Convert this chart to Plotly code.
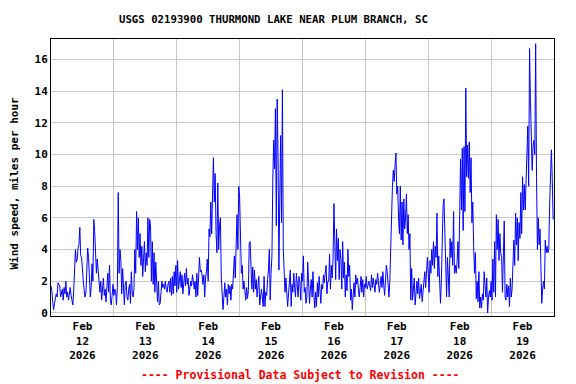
import pandas as pd
import plotly.graph_objects as go

# Wind speed (mph), 20-minute readings, one list per day
day_labels = ["2026-02-12", "2026-02-13", "2026-02-14", "2026-02-15",
              "2026-02-16", "2026-02-17", "2026-02-18", "2026-02-19"]

feb12 = [1.7, 1.4, 0.7, 0.2, 0.6, 0.9,
         1.2, 1.0, 1.9, 1.8, 1.7, 1.0,
         1.4, 1.5, 0.8, 1.6, 1.2, 2.0,
         1.0, 1.3, 0.8, 1.5, 1.6, 1.1,
         0.7, 0.5, 1.4, 2.8, 4.0, 3.2,
         3.4, 4.1, 4.3, 5.4, 3.6, 3.5,
         2.5, 2.0, 1.4, 1.0, 1.3, 2.7,
         4.1, 3.5, 1.6, 1.0, 1.6, 3.1,
         2.0, 5.9, 5.2, 3.6, 2.5, 3.4,
         2.4, 2.0, 1.3, 2.0, 0.8, 1.6,
         2.2, 1.1, 1.5, 0.7, 2.0, 2.5,
         1.3, 3.0, 0.8, 0.5, 1.1, 1.8]

feb13 = [1.1, 1.5, 1.3, 0.5, 1.6, 7.6,
         2.5, 4.0, 3.3, 1.2, 2.8, 1.5,
         0.5, 1.8, 2.0, 1.0, 0.8, 1.5,
         1.8, 0.6, 2.6, 1.3, 1.0, 1.5,
         4.0, 2.5, 6.4, 4.0, 6.0, 3.5,
         5.0, 3.0, 4.2, 2.3, 3.8, 4.5,
         2.6, 3.8, 3.0, 6.0, 3.5, 5.9,
         5.5, 2.0, 4.5, 1.8, 3.8, 1.3,
         3.2, 1.5, 0.7, 2.0, 0.5, 0.6,
         1.5, 2.0, 1.6, 1.8, 1.5, 2.0,
         1.5, 1.3, 1.8, 2.0, 1.3, 2.2,
         1.1, 2.3, 1.2, 2.6, 1.7, 3.0]

feb14 = [1.3, 3.3, 1.5, 2.0, 2.6, 1.6,
         2.4, 1.2, 2.0, 2.5, 1.7, 2.8,
         1.8, 2.2, 1.1, 1.6, 2.0, 1.7,
         2.4, 2.0, 1.5, 2.0, 1.0, 2.5,
         1.1, 2.2, 3.5, 2.6, 2.7, 2.4,
         1.8, 2.4, 1.0, 2.2, 2.6, 3.4,
         2.0, 5.3, 4.8, 7.0, 5.0, 7.5,
         9.8, 7.0, 8.8, 5.0, 3.8, 8.2,
         4.0, 5.5, 6.0, 2.2, 1.0, 0.2,
         1.0, 1.9, 1.0, 1.5, 0.5, 1.8,
         1.2, 1.7, 0.8, 1.8, 1.5, 2.6,
         3.6, 2.2, 3.8, 6.2, 4.0, 8.0]

feb15 = [7.3, 4.8, 2.5, 3.0, 1.5, 2.0,
         1.3, 0.8, 1.6, 0.9, 1.4, 4.4,
         4.5, 2.9, 1.5, 2.9, 1.3, 2.7,
         1.5, 2.1, 1.0, 1.7, 2.3, 0.5,
         1.2, 1.5, 1.0, 0.4, 2.3, 0.4,
         1.3, 1.1, 2.1, 2.7, 4.0, 0.8,
         2.5, 3.6, 8.4, 10.9, 9.1, 12.9,
         5.5, 13.5, 10.0, 2.7, 7.4, 11.2,
         5.7, 14.1, 4.0, 2.5, 1.3, 2.2,
         1.5, 0.4, 1.2, 2.1, 2.7, 0.4,
         1.8, 1.3, 2.5, 1.6, 1.0, 2.5,
         1.6, 1.0, 2.3, 1.9, 0.8, 2.5]

feb16 = [2.0, 3.6, 1.3, 1.6, 0.6, 1.0,
         3.2, 1.7, 0.6, 1.5, 2.1, 1.0,
         2.6, 1.2, 0.3, 1.3, 0.4, 1.9,
         1.0, 2.3, 1.2, 0.6, 1.8, 1.5,
         2.4, 1.9, 2.5, 3.0, 1.2, 2.0,
         2.0, 3.7, 1.5, 3.0, 2.2, 3.4,
         6.9, 4.0, 2.1, 5.3, 3.3, 4.7,
         2.1, 4.0, 3.4, 1.5, 4.5, 2.2,
         3.2, 1.0, 2.4, 1.4, 4.0, 2.3,
         3.0, 0.8, 1.5, 0.2, 1.4, 1.9,
         1.0, 2.4, 1.8, 2.2, 1.5, 1.0,
         1.6, 2.3, 1.3, 2.1, 1.0, 1.8]

feb17 = [1.6, 2.3, 1.5, 1.9, 2.0, 1.7,
         1.4, 2.4, 1.6, 2.2, 1.7, 1.3,
         2.1, 1.8, 2.5, 2.0, 1.3, 1.8,
         2.3, 1.6, 2.6, 1.8, 1.1, 2.0,
         3.0, 2.6, 1.4, 1.0, 2.0, 4.3,
         6.5, 8.0, 9.0, 8.3, 9.3, 10.1,
         7.5, 8.0, 6.0, 5.0, 8.0, 4.6,
         7.0, 4.3, 7.2, 5.3, 6.0, 7.5,
         5.0, 6.2, 4.0, 5.0, 0.8, 2.8,
         0.8, 1.5, 2.2, 0.5, 1.6, 2.0,
         1.2, 2.2, 0.9, 1.5, 1.8, 0.7,
         1.3, 2.0, 2.6, 1.6, 2.3, 3.5]

feb18 = [2.5, 1.3, 3.3, 2.5, 4.0, 3.0,
         4.5, 2.8, 4.2, 3.5, 6.3, 2.3,
         3.6, 1.8, 0.6, 2.0, 4.5, 6.8,
         7.2, 4.8, 4.0, 1.0, 3.5, 1.8,
         1.0, 4.7, 3.5, 4.5, 3.0, 6.4,
         2.5, 3.0, 2.5, 3.2, 4.5, 2.8,
         7.0, 9.7, 6.5, 10.4, 5.2, 10.5,
         6.4, 14.2, 8.6, 10.6, 8.5, 10.8,
         7.6, 9.8, 5.7, 7.0, 4.2, 2.5,
         3.8, 0.9, 2.0, 0.7, 2.6, 0.3,
         1.0, 0.3, 1.2, 0.8, 2.6, 1.5,
         1.0, 2.2, 0.0, 1.0, 1.4, 1.0]

feb19 = [2.0, 0.8, 3.4, 1.3, 4.5, 1.0,
         6.2, 4.0, 5.9, 3.3, 5.0, 3.8,
         3.5, 1.3, 3.0, 5.8, 1.0, 0.8,
         1.8, 1.0, 1.7, 0.4, 2.2, 1.0,
         1.5, 3.5, 4.6, 3.0, 6.3, 4.3,
         6.0, 3.3, 5.7, 4.7, 7.6, 5.0,
         8.6, 6.5, 8.1, 6.5, 8.1, 9.3,
         11.8, 8.0, 16.7, 13.5, 10.2, 9.0,
         10.5, 10.9, 10.0, 17.0, 8.6, 4.0,
         6.0, 4.3, 5.3, 2.1, 0.6, 1.5,
         2.0, 1.5, 4.6, 3.8, 4.2, 3.8,
         4.0, 6.8, 8.6, 10.3, 8.5, 5.9]

daily_values = [feb12, feb13, feb14, feb15, feb16, feb17, feb18, feb19]

tick_dates = ["2026-02-12 12:00", "2026-02-13 12:00", "2026-02-14 12:00", "2026-02-15 12:00",
              "2026-02-16 12:00", "2026-02-17 12:00", "2026-02-18 12:00", "2026-02-19 12:00"]
tick_text = ["Feb<br>12<br>2026", "Feb<br>13<br>2026", "Feb<br>14<br>2026", "Feb<br>15<br>2026",
             "Feb<br>16<br>2026", "Feb<br>17<br>2026", "Feb<br>18<br>2026", "Feb<br>19<br>2026"]
grid_dates = ["2026-02-13", "2026-02-14", "2026-02-15", "2026-02-16",
              "2026-02-17", "2026-02-18", "2026-02-19"]
y_ticks = [0, 2, 4, 6, 8, 10, 12, 14, 16]

times, values = [], []
for day, vals in zip(day_labels, daily_values):
    start = pd.Timestamp(day)
    step = pd.Timedelta(minutes=20)
    for i, v in enumerate(vals):
        times.append(start + i * step)
        values.append(v)

FONT = "DejaVu Sans Mono"

fig = go.Figure()
fig.add_trace(go.Scatter(x=times, y=values, mode="lines",
                         line=dict(color="#0000ff", width=1),
                         hoverinfo="skip", showlegend=False))

# the page body adds an 8px offset, so margins are compensated
fig.update_layout(
    width=576, height=384,
    margin=dict(l=43, r=30, t=31, b=76),
    paper_bgcolor="white", plot_bgcolor="white",
    font=dict(family=FONT, size=11, color="black", weight="bold"),
    showlegend=False,
)

fig.update_xaxes(
    type="date",
    range=["2026-02-12 00:00", "2026-02-20 00:00"],
    tickmode="array", tickvals=tick_dates, ticktext=tick_text,
    showgrid=False, ticks="", zeroline=False,
    tickfont=dict(family=FONT, size=11, color="black", weight="bold"),
    minor=dict(tickmode="array", tickvals=grid_dates, showgrid=True,
               gridcolor="#c8c8c8", gridwidth=1, ticks=""),
    showline=True, mirror=True, linecolor="black", linewidth=1,
)
fig.update_yaxes(
    range=[-0.2, 17.3],
    tickmode="array", tickvals=y_ticks,
    showgrid=True, gridcolor="#c8c8c8", gridwidth=1,
    zeroline=False, ticks="",
    tickfont=dict(family=FONT, size=11, color="black", weight="bold"),
    showline=True, mirror=True, linecolor="black", linewidth=1,
)

fig.add_annotation(text="USGS 02193900 THURMOND LAKE NEAR PLUM BRANCH, SC",
                   xref="paper", yref="paper", x=0.443, y=1.072,
                   xanchor="center", yanchor="middle", showarrow=False,
                   font=dict(family=FONT, size=10.7, color="black", weight="bold"))
fig.add_annotation(text="Wind speed, miles per hour",
                   xref="paper", yref="paper", x=-0.0726, y=0.48,
                   xanchor="center", yanchor="middle", textangle=-90, showarrow=False,
                   font=dict(family=FONT, size=11, color="black", weight="bold"))
fig.add_annotation(text="---- Provisional Data Subject to Revision ----",
                   xref="paper", yref="paper", x=0.497, y=-0.213,
                   xanchor="center", yanchor="middle", showarrow=False,
                   font=dict(family=FONT, size=11.5, color="#ff0000", weight="bold"))

fig.write_html("out.html", config={"displayModeBar": False})
